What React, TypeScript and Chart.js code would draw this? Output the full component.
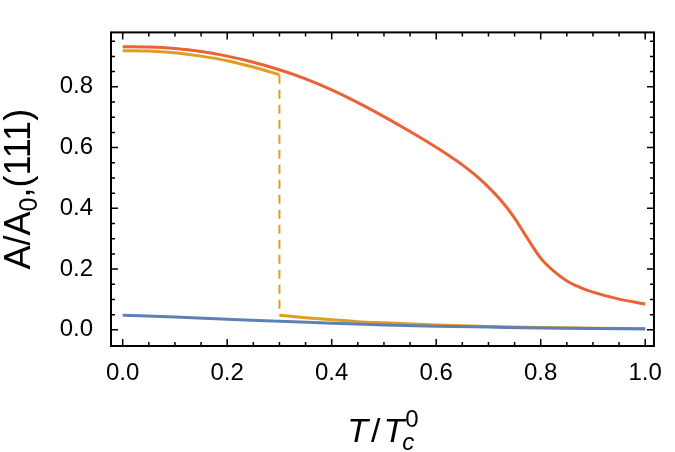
import React, { useEffect, useRef } from "react";
import { Chart, registerables } from "chart.js";

Chart.register(...registerables);

// ---- data ----
const redX = [0, 0.05, 0.1, 0.15, 0.2, 0.25, 0.3, 0.35, 0.4, 0.45, 0.5, 0.55, 0.6, 0.625, 0.65, 0.675, 0.7, 0.725, 0.75, 0.775, 0.8, 0.825, 0.85, 0.875, 0.9, 0.95, 1.0];
const redY = [0.932, 0.931, 0.926, 0.916, 0.901, 0.881, 0.856, 0.826, 0.790, 0.748, 0.702, 0.653, 0.601, 0.573, 0.543, 0.509, 0.470, 0.424, 0.368, 0.300, 0.236, 0.193, 0.161, 0.140, 0.124, 0.101, 0.085];

const orangeHighX = [0, 0.05, 0.1, 0.15, 0.2, 0.25, 0.3];
const orangeHighY = [0.919, 0.918, 0.912, 0.901, 0.886, 0.865, 0.840];

const orangeLowX = [0.3, 0.35, 0.4, 0.45, 0.5, 0.6, 0.7, 0.8, 0.9, 1.0];
const orangeLowY = [0.048, 0.040, 0.033, 0.027, 0.023, 0.016, 0.011, 0.008, 0.005, 0.004];

const jumpX = [0.3, 0.3];
const jumpY = [0.840, 0.048];

const blueX = [0, 0.1, 0.2, 0.3, 0.4, 0.5, 0.6, 0.7, 0.8, 0.9, 1.0];
const blueY = [0.048, 0.042, 0.035, 0.028, 0.022, 0.016, 0.012, 0.009, 0.006, 0.004, 0.003];

const xTickValues = [0, 0.05, 0.1, 0.15, 0.2, 0.25, 0.3, 0.35, 0.4, 0.45, 0.5, 0.55, 0.6, 0.65, 0.7, 0.75, 0.8, 0.85, 0.9, 0.95, 1.0];
const xTickLabels = ["0.0", "0.2", "0.4", "0.6", "0.8", "1.0"];
const yTickValues = [0, 0.05, 0.1, 0.15, 0.2, 0.25, 0.3, 0.35, 0.4, 0.45, 0.5, 0.55, 0.6, 0.65, 0.7, 0.75, 0.8, 0.85, 0.9, 0.95];
const yTickLabels = ["0.0", "0.2", "0.4", "0.6", "0.8"];

const RED = "#EB6235";
const ORANGE = "#E19C24";
const BLUE = "#5E81B5";
const FONT = "'Liberation Sans', Arial, Helvetica, sans-serif";

const pts = (xs: number[], ys: number[]) => xs.map((x, i) => ({ x, y: ys[i] }));

const labelFor = (v: number, labels: string[]) => {
  const idx = Math.round(v / 0.2);
  if (Math.abs(v - idx * 0.2) < 1e-6 && idx >= 0 && idx < labels.length) return labels[idx];
  return "";
};

const framePlugin = {
  id: "frameTicks",
  afterDraw(chart: any) {
    const ctx = chart.ctx;
    const { left, right, top, bottom } = chart.chartArea;
    const xs = chart.scales.x;
    const ys = chart.scales.y;
    ctx.save();
    ctx.strokeStyle = "#000";
    ctx.lineWidth = 1.5;
    ctx.beginPath();
    xs.ticks.forEach((t: any) => {
      const major = labelFor(t.value, xTickLabels) !== "";
      const len = major ? 7 : 4;
      const px = xs.getPixelForValue(t.value);
      ctx.moveTo(px, bottom);
      ctx.lineTo(px, bottom - len);
      ctx.moveTo(px, top);
      ctx.lineTo(px, top + len);
    });
    ys.ticks.forEach((t: any) => {
      const major = labelFor(t.value, yTickLabels) !== "";
      const len = major ? 7 : 4;
      const py = ys.getPixelForValue(t.value);
      ctx.moveTo(left, py);
      ctx.lineTo(left + len, py);
      ctx.moveTo(right, py);
      ctx.lineTo(right - len, py);
    });
    ctx.stroke();
    ctx.lineWidth = 2;
    ctx.strokeRect(left, top, right - left, bottom - top);

    // y title: A/A_0,(111)
    ctx.fillStyle = "#000";
    const F = 36;
    ctx.save();
    const cy = (top + bottom) / 2;
    ctx.translate(30, cy);
    ctx.rotate(-Math.PI / 2);
    ctx.textBaseline = "alphabetic";
    ctx.textAlign = "left";
    const big = `${F}px ${FONT}`;
    const small = `${Math.round(F * 0.7)}px ${FONT}`;
    ctx.font = big;
    const w1 = ctx.measureText("A/A").width;
    const w3 = ctx.measureText(",(111)").width;
    ctx.font = small;
    const w2 = ctx.measureText("0").width;
    const total = w1 + w2 + w3;
    let x0 = -total / 2;
    ctx.font = big;
    ctx.fillText("A/A", x0, 0);
    x0 += w1;
    ctx.font = small;
    ctx.fillText("0", x0, F * 0.2);
    x0 += w2;
    ctx.font = big;
    ctx.fillText(",(111)", x0, 0);
    ctx.restore();

    // x title: T/T_c^0
    const G = 34;
    const it = `italic ${G}px ${FONT}`;
    const up = `${G}px ${FONT}`;
    const itS = `italic ${Math.round(G * 0.7)}px ${FONT}`;
    const upS = `${Math.round(G * 0.7)}px ${FONT}`;
    ctx.textBaseline = "alphabetic";
    ctx.textAlign = "left";
    ctx.font = it;
    const wT = ctx.measureText("T").width;
    ctx.font = up;
    const wS = ctx.measureText("/").width;
    ctx.font = itS;
    const wc = ctx.measureText("c").width;
    ctx.font = upS;
    const w0 = ctx.measureText("0").width;
    const gap = 3;
    const totalX = wT + gap + wS + gap + wT + Math.max(wc, w0);
    let xx = (left + right) / 2 - totalX / 2;
    const base = 442;
    ctx.font = it;
    ctx.fillText("T", xx, base);
    xx += wT + gap;
    ctx.font = up;
    ctx.fillText("/", xx, base);
    xx += wS + gap;
    ctx.font = it;
    ctx.fillText("T", xx, base);
    xx += wT;
    ctx.font = itS;
    ctx.fillText("c", xx - 2, base + 8);
    ctx.font = upS;
    ctx.fillText("0", xx + 1, base - 15);
    ctx.restore();
  },
};

export default function App() {
  const ref = useRef<HTMLCanvasElement | null>(null);
  useEffect(() => {
    document.body.style.margin = "0";
    const canvas = ref.current!;
    const chart = new Chart(canvas, {
      type: "line",
      data: {
        datasets: [
          { data: pts(blueX, blueY), borderColor: BLUE, borderWidth: 3, pointRadius: 0, cubicInterpolationMode: "monotone", fill: false },
          { data: pts(orangeLowX, orangeLowY), borderColor: ORANGE, borderWidth: 3, pointRadius: 0, cubicInterpolationMode: "monotone", fill: false },
          { data: pts(redX, redY), borderColor: RED, borderWidth: 3, pointRadius: 0, cubicInterpolationMode: "monotone", fill: false },
          { data: pts(orangeHighX, orangeHighY), borderColor: ORANGE, borderWidth: 3, pointRadius: 0, cubicInterpolationMode: "monotone", fill: false },
          { data: pts(jumpX, jumpY), borderColor: ORANGE, borderWidth: 2, borderDash: [9, 6], pointRadius: 0, fill: false },
        ],
      } as any,
      options: {
        animation: false,
        responsive: false,
        maintainAspectRatio: false,
        parsing: false as any,
        layout: { padding: { top: 2, right: 7, left: 0, bottom: 0 } },
        plugins: { legend: { display: false }, tooltip: { enabled: false }, title: { display: false } },
        scales: {
          x: {
            type: "linear",
            min: -0.02239,
            max: 1.01679,
            grid: { display: false, drawTicks: false },
            border: { display: false },
            afterBuildTicks: (s: any) => {
              s.ticks = xTickValues.map((v) => ({ value: v }));
            },
            afterFit: (s: any) => {
              s.height = 106;
            },
            ticks: {
              autoSkip: false,
              maxRotation: 0,
              padding: 13,
              color: "#000",
              font: { family: FONT, size: 24 },
              callback: (v: any) => labelFor(Number(v), xTickLabels),
            },
          },
          y: {
            type: "linear",
            min: -0.0532,
            max: 0.9791,
            grid: { display: false, drawTicks: false },
            border: { display: false },
            afterBuildTicks: (s: any) => {
              s.ticks = yTickValues.map((v) => ({ value: v }));
            },
            afterFit: (s: any) => {
              s.width = 111;
            },
            ticks: {
              autoSkip: false,
              padding: 18,
              color: "#000",
              font: { family: FONT, size: 24 },
              callback: (v: any) => labelFor(Number(v), yTickLabels),
            },
          },
        },
      },
      plugins: [framePlugin],
    });
    return () => chart.destroy();
  }, []);
  return (
    <div style={{ width: 675, height: 452, position: "relative", background: "#fff" }}>
      <canvas ref={ref} width={675} height={452} style={{ width: 675, height: 452, display: "block" }} />
    </div>
  );
}
